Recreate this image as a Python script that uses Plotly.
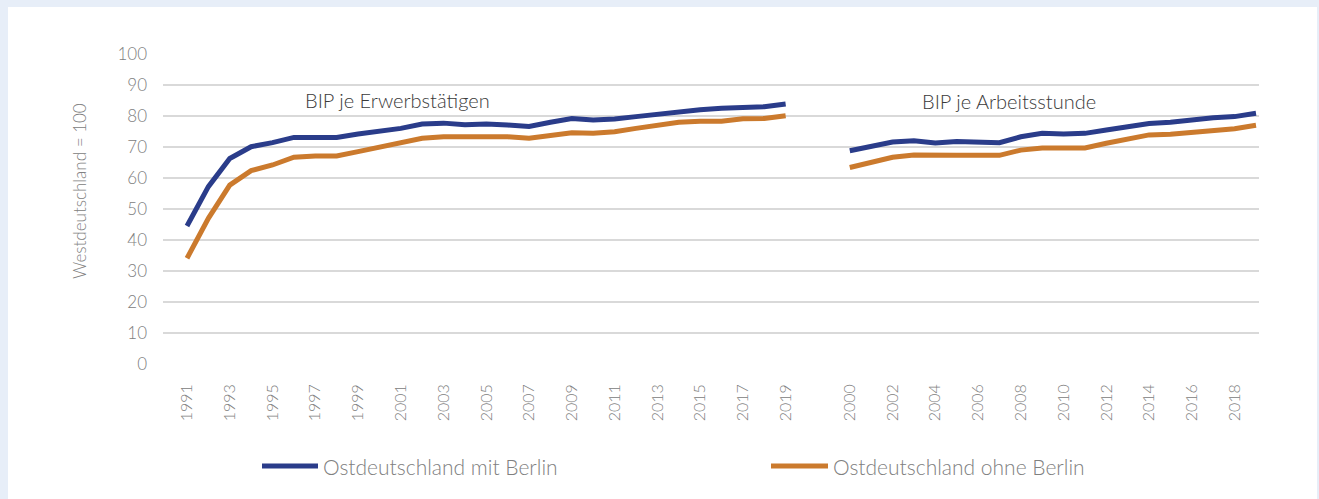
import plotly.graph_objects as go

# ---- data ----
years_erw = list(range(1991, 2020))
mit_berlin_erw = [44.5, 57.2, 66.3, 70.1, 71.4, 73.1, 73.1, 73.1, 74.2, 75.1,
                  76.0, 77.4, 77.7, 77.2, 77.4, 77.1, 76.6, 78.0, 79.2, 78.7,
                  79.0, 79.8, 80.6, 81.5, 82.0, 82.5, 82.8, 83.0, 83.9]
ohne_berlin_erw = [34.1, 47.0, 57.7, 62.4, 64.2, 66.7, 67.1, 67.1, 68.5, 69.9,
                   71.2, 72.8, 73.3, 73.3, 73.2, 73.3, 72.8, 73.6, 74.6, 74.4,
                   74.9, 76.0, 77.1, 78.0, 78.3, 78.3, 79.1, 79.2, 80.1]

years_std = list(range(2000, 2020))
mit_berlin_std = [68.8, 70.1, 71.6, 72.0, 71.3, 71.8, 71.6, 71.4, 73.3, 74.4,
                  74.2, 74.4, 75.5, 76.6, 77.6, 78.0, 78.9, 79.4, 79.8, 80.9]
ohne_berlin_std = [63.4, 65.0, 66.7, 67.4, 67.2, 67.3, 67.3, 67.3, 69.0, 69.7,
                   69.7, 69.7, 71.2, 72.6, 73.9, 74.1, 74.6, 75.3, 75.9, 77.0]

series_names = ["Ostdeutschland mit Berlin", "Ostdeutschland ohne Berlin"]
panel_titles = ["BIP je Erwerbstätigen", "BIP je Arbeitsstunde"]
y_title = "Westdeutschland = 100"
gap_slots = 2

# ---- styling ----
BLUE = "#2a3c8a"
ORANGE = "#cb7a2d"
GRID = "#d9d9d9"
TXT = "#808080"
FONT = "Lato"

W, H = 1319, 499
L, R, T, B = 163, 1259, 54, 364

def px_x(p):
    return (p - L) / (R - L)

def px_y(p):
    return (B - p) / (B - T)

# category positions (index based)
x_erw = list(range(len(years_erw)))
off = len(years_erw) + gap_slots
x_std = [off + i for i in range(len(years_std))]

fig = go.Figure()
for xs, vals_m, vals_o in [(x_erw, mit_berlin_erw, ohne_berlin_erw),
                           (x_std, mit_berlin_std, ohne_berlin_std)]:
    fig.add_trace(go.Scatter(x=xs, y=vals_m, mode="lines", name=series_names[0],
                             legendgroup="m", showlegend=False,
                             line=dict(color=BLUE, width=5)))
    fig.add_trace(go.Scatter(x=xs, y=vals_o, mode="lines", name=series_names[1],
                             legendgroup="o", showlegend=False,
                             line=dict(color=ORANGE, width=5)))

tickvals = x_erw[::2] + x_std[::2]
ticktext = [str(y) for y in years_erw[::2]] + [str(y) for y in years_std[::2]]

n_last = x_std[-1]
unit = (1256 - 187) / n_last
x_left = -(187 - L) / unit
x_right = n_last + (R - 1256) / unit

fig.update_xaxes(range=[x_left, x_right], tickmode="array", tickvals=tickvals,
                 ticktext=ticktext, tickangle=-90, showgrid=False, zeroline=False,
                 showline=False, ticks="", ticklabelstandoff=16,
                 tickfont=dict(family=FONT, size=16, color=TXT, weight=300))
fig.update_yaxes(range=[0, 100], dtick=10, showgrid=True, gridcolor=GRID,
                 gridwidth=1.5, zeroline=False, showline=False, ticks="",
                 ticklabelstandoff=15,
                 tickfont=dict(family=FONT, size=17, color=TXT, weight=300))

shapes = [
    dict(type="rect", xref="paper", yref="paper", layer="below",
         x0=px_x(8), x1=px_x(1317), y0=px_y(7), y1=px_y(505),
         fillcolor="white", line=dict(width=0)),
    dict(type="line", xref="paper", yref="paper",
         x0=px_x(262), x1=px_x(318), y0=px_y(466), y1=px_y(466),
         line=dict(color=BLUE, width=5)),
    dict(type="line", xref="paper", yref="paper",
         x0=px_x(771), x1=px_x(828), y0=px_y(466), y1=px_y(466),
         line=dict(color=ORANGE, width=5)),
]

annotations = [
    dict(text=panel_titles[0], xref="paper", yref="paper", x=px_x(397), y=px_y(100),
         showarrow=False, xanchor="center", yanchor="middle",
         font=dict(family=FONT, size=20, color="#3a3a3a", weight=300)),
    dict(text=panel_titles[1], xref="paper", yref="paper", x=px_x(1009), y=px_y(101),
         showarrow=False, xanchor="center", yanchor="middle",
         font=dict(family=FONT, size=20, color="#3a3a3a", weight=300)),
    dict(text=y_title, xref="paper", yref="paper", x=px_x(79), y=px_y(191),
         showarrow=False, textangle=-90, xanchor="center", yanchor="middle",
         font=dict(family=FONT, size=17, color=TXT, weight=300)),
    dict(text=series_names[0], xref="paper", yref="paper", x=px_x(321), y=px_y(466),
         showarrow=False, xanchor="left", yanchor="middle",
         font=dict(family=FONT, size=21, color=TXT, weight=300)),
    dict(text=series_names[1], xref="paper", yref="paper", x=px_x(831), y=px_y(466),
         showarrow=False, xanchor="left", yanchor="middle",
         font=dict(family=FONT, size=21, color=TXT, weight=300)),
]

fig.update_layout(width=W, height=H, autosize=False,
                  margin=dict(l=L, r=W - R, t=T, b=H - B, pad=0),
                  paper_bgcolor="#e7eef8", plot_bgcolor="rgba(0,0,0,0)",
                  showlegend=False, shapes=shapes, annotations=annotations,
                  font=dict(family=FONT, color=TXT))

fig.write_html("out.html", config={"displayModeBar": False},
               post_script="document.body.style.margin='0';document.body.style.overflow='hidden';")
